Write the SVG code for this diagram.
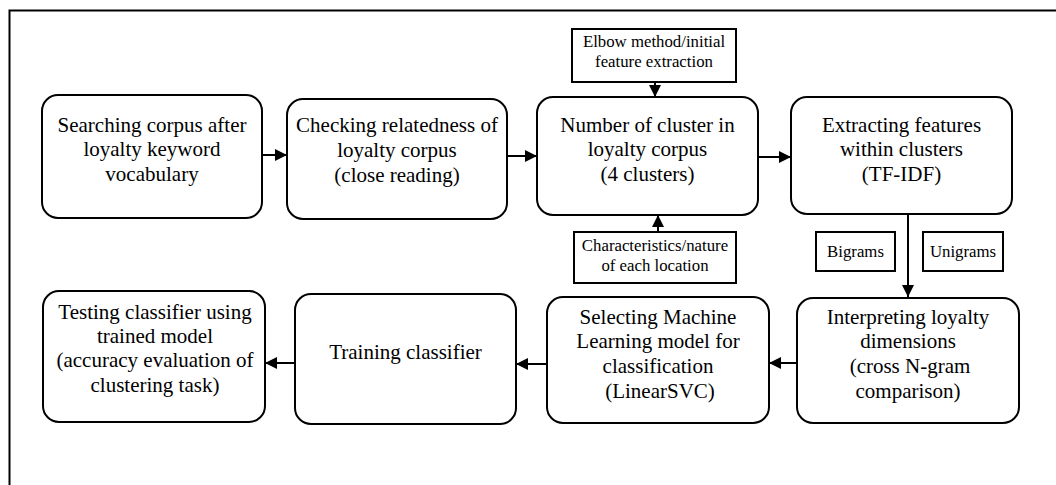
<svg xmlns="http://www.w3.org/2000/svg" width="1056" height="485" viewBox="0 0 1056 485">
<style>
.box{fill:#fff;stroke:#000;stroke-width:2}
.sbox{fill:#fff;stroke:#000;stroke-width:2}
text{font-family:'Liberation Serif','Times New Roman',Times,'DejaVu Serif',serif;fill:#000;text-anchor:middle}
.t{font-size:21px}
.s{font-size:16.8px}
.c{stroke:#000;stroke-width:2;fill:none;marker-end:url(#ah)}
</style>
<defs>
<marker id="ah" markerUnits="userSpaceOnUse" markerWidth="12" markerHeight="12" refX="12" refY="6" orient="auto">
<path d="M0,0 L12,6 L0,12 z" fill="#000"/>
</marker>
</defs>
<rect width="1056" height="485" fill="#fff"/>
<path d="M9.5,485 V10.5 H1056" fill="none" stroke="#000" stroke-width="2"/>

<g id="connectors">
<line class="c" x1="262" y1="155" x2="287" y2="155"/>
<line class="c" x1="507" y1="156" x2="537" y2="156"/>
<line class="c" x1="758" y1="157" x2="791" y2="157"/>
<line class="c" x1="655" y1="82" x2="655" y2="97"/>
<line class="c" x1="658" y1="232" x2="658" y2="215"/>
<line class="c" x1="908" y1="214" x2="908" y2="297"/>
<line class="c" x1="797" y1="363" x2="769" y2="363"/>
<line class="c" x1="547" y1="364" x2="516" y2="364"/>
<line class="c" x1="295" y1="363" x2="265" y2="363"/>
</g>

<g id="n1">
<rect class="box" x="42" y="95" width="220" height="123" rx="16"/>
<text class="t" x="152" y="132" font-family="Liberation Serif, serif">Searching corpus after</text>
<text class="t" x="152" y="156" font-family="Liberation Serif, serif">loyalty keyword</text>
<text class="t" x="152" y="181" font-family="Liberation Serif, serif">vocabulary</text>
</g>
<g id="n2">
<rect class="box" x="287" y="99" width="220" height="120" rx="16"/>
<text class="t" x="397" y="132">Checking relatedness of</text>
<text class="t" x="397" y="157">loyalty corpus</text>
<text class="t" x="397" y="182">(close reading)</text>
</g>
<g id="n3">
<rect class="box" x="537" y="97" width="221" height="118" rx="16"/>
<text class="t" x="647.5" y="132">Number of cluster in</text>
<text class="t" x="647.5" y="156">loyalty corpus</text>
<text class="t" x="647.5" y="181">(4 clusters)</text>
</g>
<g id="n4">
<rect class="box" x="791" y="97" width="221" height="117" rx="16"/>
<text class="t" x="901.5" y="132">Extracting features</text>
<text class="t" x="901.5" y="156">within clusters</text>
<text class="t" x="901.5" y="181">(TF-IDF)</text>
</g>
<g id="elbow">
<rect class="sbox" x="572" y="29" width="164" height="53"/>
<text class="s" x="654" y="47">Elbow method/initial</text>
<text class="s" x="654" y="67">feature extraction</text>
</g>
<g id="characteristics">
<rect class="sbox" x="574" y="232" width="162" height="51"/>
<text class="s" x="655" y="251">Characteristics/nature</text>
<text class="s" x="655" y="271">of each location</text>
</g>
<g id="bigrams">
<rect class="sbox" x="816" y="232" width="79" height="39"/>
<text class="s" x="855.5" y="257">Bigrams</text>
</g>
<g id="unigrams">
<rect class="sbox" x="923" y="232" width="80" height="39"/>
<text class="s" x="963" y="257">Unigrams</text>
</g>
<g id="n5">
<rect class="box" x="797" y="298" width="222" height="125" rx="16"/>
<text class="t" x="908" y="324">Interpreting loyalty</text>
<text class="t" x="908" y="348">dimensions</text>
<text class="t" x="910" y="373">(cross N-gram</text>
<text class="t" x="908" y="398">comparison)</text>
</g>
<g id="n6">
<rect class="box" x="547" y="297" width="222" height="126" rx="16"/>
<text class="t" x="658" y="324">Selecting Machine</text>
<text class="t" x="658" y="348">Learning model for</text>
<text class="t" x="658" y="373">classification</text>
<text class="t" x="660" y="398">(LinearSVC)</text>
</g>
<g id="n7">
<rect class="box" x="295" y="294" width="221" height="130" rx="16"/>
<text class="t" x="405.5" y="359">Training classifier</text>
</g>
<g id="n8">
<rect class="box" x="43" y="291" width="222" height="131" rx="16"/>
<text class="t" x="155" y="319">Testing classifier using</text>
<text class="t" x="155" y="343">trained model</text>
<text class="t" x="155" y="367">(accuracy evaluation of</text>
<text class="t" x="155" y="392">clustering task)</text>
</g>
</svg>
